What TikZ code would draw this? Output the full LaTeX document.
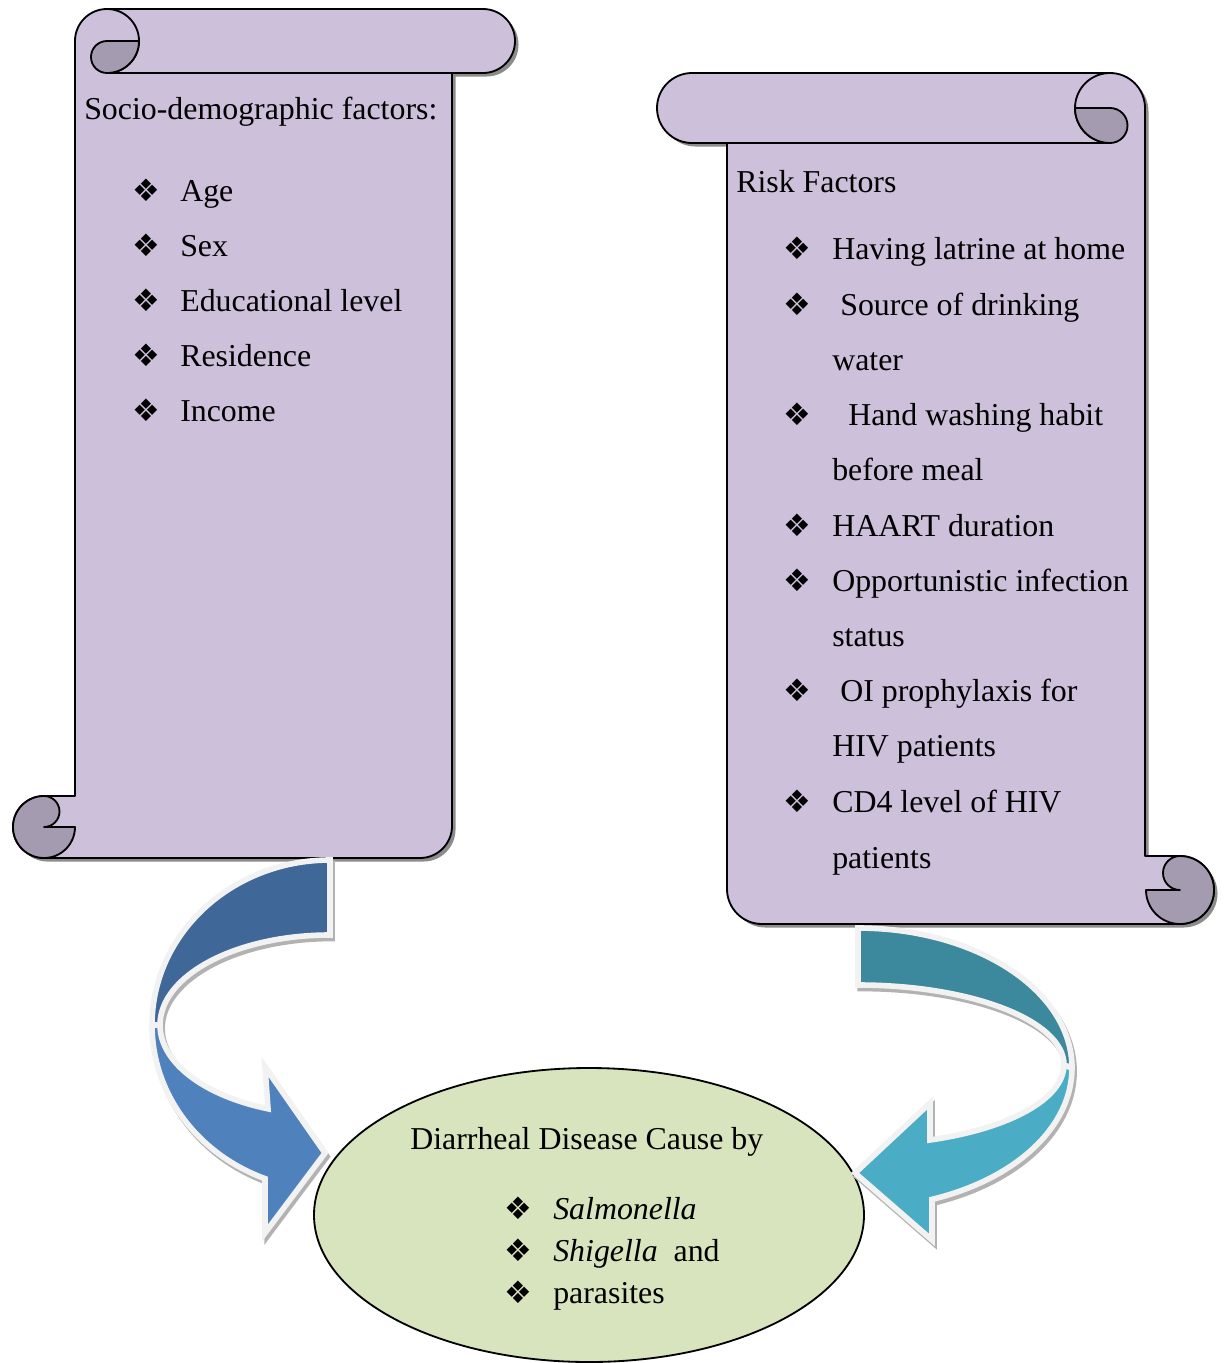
\documentclass[tikz,border=0pt]{standalone}
\usepackage{fontspec}
\setmainfont{Liberation Serif}
\newfontfamily\bulletfont{DejaVu Sans}
\usepackage{xcolor}
\definecolor{scrollfill}{HTML}{CCC0DA}
\definecolor{scrolldark}{HTML}{A49BB0}
\definecolor{ovalfill}{HTML}{D7E4BD}
\definecolor{blueback}{HTML}{3F6797}
\definecolor{bluefront}{HTML}{4F81BD}
\definecolor{tealback}{HTML}{3C889C}
\definecolor{tealfront}{HTML}{4BACC6}
\definecolor{rim}{HTML}{F2F2F2}

\begin{document}
\begin{tikzpicture}[x=0.025cm, y=0.025cm,
  outline/.style={draw=black, line width=1.3pt, line join=round},
  roll/.style={outline, fill=scrollfill, preaction={fill=black!45, transform canvas={shift={(2.5pt,-2.5pt)}}}},
  curl/.style={outline, fill=scrolldark},
  band/.style={draw=rim, line width=4pt, line join=miter,
    preaction={fill=black!30, draw=black!30, line width=4pt, transform canvas={shift={(1.5pt,-2.5pt)}}}},
  txt/.style={anchor=base west, inner sep=0pt, font=\fontsize{22.66}{27}\selectfont},
  bul/.style={anchor=base, inner sep=0pt, font=\fontsize{22}{26}\bulletfont}]
  \useasboundingbox (0,0) rectangle (1229,-1363);

  % left scroll
  \draw[roll] (75,-41) arc[start angle=180, end angle=90, radius=32]
    -- (483,-9) arc[start angle=90, end angle=-90, radius=32]
    -- (452,-73) -- (452,-826) arc[start angle=0, end angle=-90, radius=32]
    -- (44,-858) arc[start angle=-90, end angle=-270, radius=31]
    -- (75,-796) -- cycle;
  \draw[outline] (107,-73) -- (452,-73);
  \draw[outline] (107,-9) arc[start angle=90, end angle=-90, radius=32];
  \draw[curl] (107,-41) -- (139,-41) arc[start angle=0, end angle=-90, radius=32]
    arc[start angle=-90, end angle=-270, radius=16] -- cycle;
  \draw[curl] (44,-796) arc[start angle=90, end angle=360, radius=31]
    -- (44,-827) arc[start angle=-90, end angle=90, radius=15.5] -- cycle;

  % right scroll
  \draw[roll] (1145,-108) arc[start angle=0, end angle=90, radius=35]
    -- (692,-73) arc[start angle=90, end angle=270, radius=35]
    -- (727,-143) -- (727,-889) arc[start angle=180, end angle=270, radius=35]
    -- (1180,-924) arc[start angle=-90, end angle=90, radius=34]
    -- (1145,-856) -- cycle;
  \draw[outline] (727,-143) -- (1110,-143);
  \draw[outline] (1110,-73) arc[start angle=90, end angle=270, radius=35];
  \draw[curl] (1110,-108) -- (1075,-108) arc[start angle=180, end angle=270, radius=35]
    arc[start angle=-90, end angle=90, radius=17.5] -- cycle;
  \draw[curl] (1180,-856) arc[start angle=90, end angle=-180, radius=34]
    -- (1180,-890) arc[start angle=-90, end angle=-270, radius=17] -- cycle;

  % outcome
  \draw[outline, fill=ovalfill] (589,-1215) ellipse [x radius=275, y radius=147];

  % curved arrows
  \draw[band, fill=blueback] (330,-860) arc[start angle=90, end angle=180, x radius=178, y radius=165]
    -- (160,-1025) arc[start angle=180, end angle=90, x radius=170, y radius=90] -- cycle;
  \draw[band, fill=bluefront] (152,-1025) arc[start angle=180, end angle=248.6, x radius=178, y radius=165]
    -- (265,-1233) -- (325,-1153) -- (265,-1067) -- (268,-1108.8)
    arc[start angle=248.6, end angle=180, x radius=170, y radius=90] -- cycle;
  \draw[band, fill=tealback] (858,-928) arc[start angle=90, end angle=0, x radius=214, y radius=140]
    -- (1064,-1065) arc[start angle=0, end angle=90, x radius=206, y radius=80] -- cycle;
  \draw[band, fill=tealfront] (1072,-1068) arc[start angle=0, end angle=-69.77, x radius=214, y radius=140]
    -- (932,-1240) -- (855,-1173) -- (930,-1103) -- (930,-1140)
    arc[start angle=-69.5, end angle=0, x radius=206, y radius=80] -- cycle;

  % socio-demographic list
  \node[txt] (sdhead) at (84,-119) {Socio-demographic factors:};
  \node[bul] (sdb1) at (146,-201) {❖};
  \node[txt] (age) at (180,-201) {Age};
  \node[bul] (sdb2) at (146,-256) {❖};
  \node[txt] (sex) at (180,-256) {Sex};
  \node[bul] (sdb3) at (146,-311) {❖};
  \node[txt] (edu) at (180,-311) {Educational level};
  \node[bul] (sdb4) at (146,-366) {❖};
  \node[txt] (res) at (180,-366) {Residence};
  \node[bul] (sdb5) at (146,-421) {❖};
  \node[txt] (inc) at (180,-421) {Income};

  % risk factor list
  \node[txt] (rfhead) at (736,-192) {Risk Factors};
  \node[bul] (rfb1) at (797,-259) {❖};
  \node[txt] (latrine) at (832,-259) {Having latrine at home};
  \node[bul] (rfb2) at (797,-315) {❖};
  \node[txt] (water1) at (840,-315) {Source of drinking};
  \node[txt] (water2) at (832,-370) {water};
  \node[bul] (rfb3) at (797,-425) {❖};
  \node[txt] (hand1) at (848,-425) {Hand washing habit};
  \node[txt] (hand2) at (832,-480) {before meal};
  \node[bul] (rfb4) at (797,-536) {❖};
  \node[txt] (haart) at (832,-536) {HAART duration};
  \node[bul] (rfb5) at (797,-591) {❖};
  \node[txt] (oi1) at (832,-591) {Opportunistic infection};
  \node[txt] (oi2) at (832,-646) {status};
  \node[bul] (rfb6) at (797,-701) {❖};
  \node[txt] (proph1) at (840,-701) {OI prophylaxis for};
  \node[txt] (proph2) at (832,-756) {HIV patients};
  \node[bul] (rfb7) at (797,-812) {❖};
  \node[txt] (cd1) at (832,-812) {CD4 level of HIV};
  \node[txt] (cd2) at (832,-868) {patients};

  % outcome text
  \node[txt] (ovalhead) at (410,-1149) {Diarrheal Disease Cause by};
  \node[bul] (ovb1) at (518,-1219) {❖};
  \node[txt] (salm) at (553,-1219) {\textit{Salmonella}};
  \node[bul] (ovb2) at (518,-1261) {❖};
  \node[txt] (shig) at (553,-1261) {\textit{Shigella}\ \ and};
  \node[bul] (ovb3) at (518,-1303) {❖};
  \node[txt] (para) at (553,-1303) {parasites};
\end{tikzpicture}
\end{document}
